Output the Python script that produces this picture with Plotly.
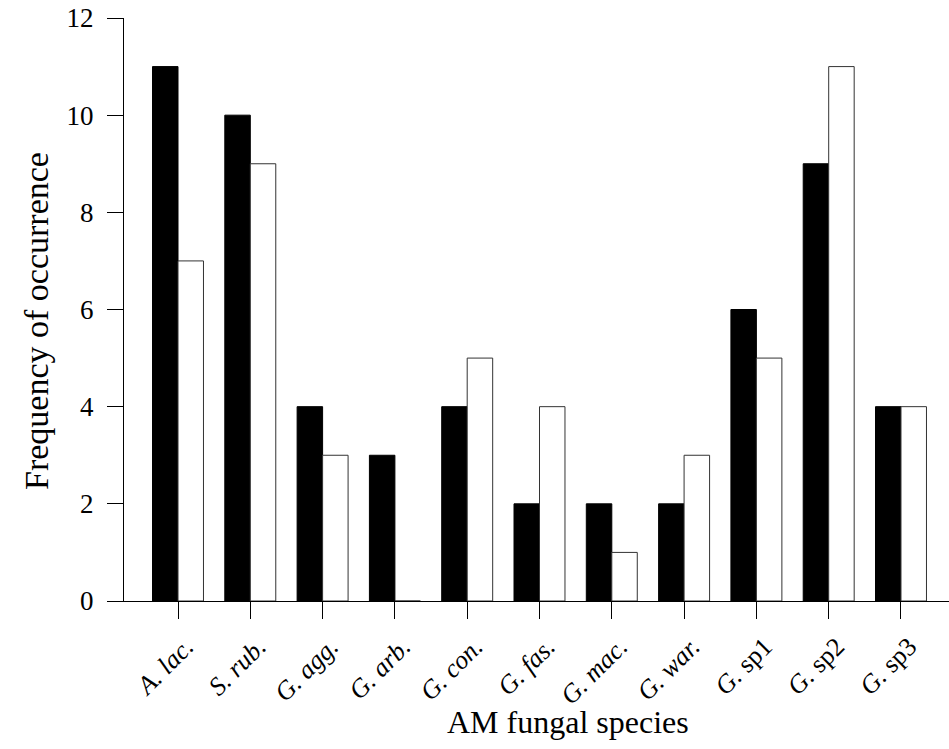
import plotly.graph_objects as go

categories = ["A. lac.", "S. rub.", "G. agg.", "G. arb.", "G. con.", "G. fas.",
              "G. mac.", "G. war.", "G. sp1", "G. sp2", "G. sp3"]
tick_labels = ["<i>A. lac.</i>", "<i>S. rub.</i>", "<i>G. agg.</i>", "<i>G. arb.</i>",
               "<i>G. con.</i>", "<i>G. fas.</i>", "<i>G. mac.</i>", "<i>G. war.</i>",
               "<i>G.</i> sp1", "<i>G.</i> sp2", "<i>G.</i> sp3"]
black_values = [11, 10, 4, 3, 4, 2, 2, 2, 6, 9, 4]
white_values = [7, 9, 3, 0, 5, 4, 1, 3, 5, 11, 4]
y_ticks = [0, 2, 4, 6, 8, 10, 12]

FONT = "Liberation Serif, Times New Roman, serif"

fig = go.Figure()
fig.add_trace(go.Bar(x=categories, y=black_values, marker=dict(color="black", line=dict(color="black", width=1)),
                     showlegend=False))
fig.add_trace(go.Bar(x=categories, y=white_values, marker=dict(color="white", line=dict(color="#333333", width=1)),
                     showlegend=False))

W, H = 949, 749
ml, mr, mt, mb = 107, 0, 18, 148
plot_w = W - ml - mr
plot_h = H - mt - mb

fig.update_layout(
    width=W, height=H,
    margin=dict(l=ml, r=mr, t=mt, b=mb, pad=0),
    paper_bgcolor="white", plot_bgcolor="white",
    barmode="group", bargap=0.295, bargroupgap=0,
    font=dict(family=FONT, color="black", size=26),
    xaxis=dict(
        type="category", range=[-0.982, 10.664],
        tickmode="array", tickvals=categories, ticktext=tick_labels,
        tickangle=-45,
        showline=True, linecolor="black", linewidth=1,
        ticks="outside", ticklen=17, tickcolor="black", tickwidth=1,
        ticklabelshift=8, ticklabelstandoff=2,
        showgrid=False, zeroline=False,
        tickfont=dict(family=FONT, size=26),
    ),
    yaxis=dict(
        range=[0, 12], tickvals=y_ticks,
        anchor="free", position=16 / plot_w,
        showline=True, linecolor="black", linewidth=1,
        ticks="outside", ticklen=16, tickcolor="black", tickwidth=1,
        ticklabelstandoff=8,
        showgrid=False, zeroline=False,
        tickfont=dict(family=FONT, size=27),
    ),
    annotations=[
        dict(text="AM fungal species", xref="paper", yref="paper",
             x=(568 - ml) / plot_w, y=-(722 - (mt + plot_h)) / plot_h,
             xanchor="center", yanchor="middle", showarrow=False,
             font=dict(family=FONT, size=32)),
        dict(text="Frequency of occurrence", xref="paper", yref="paper",
             x=(36 - ml) / plot_w, y=1 - (321 - mt) / plot_h,
             xanchor="center", yanchor="middle", showarrow=False, textangle=-90,
             font=dict(family=FONT, size=34)),
    ],
)

fig.write_html("out.html")
